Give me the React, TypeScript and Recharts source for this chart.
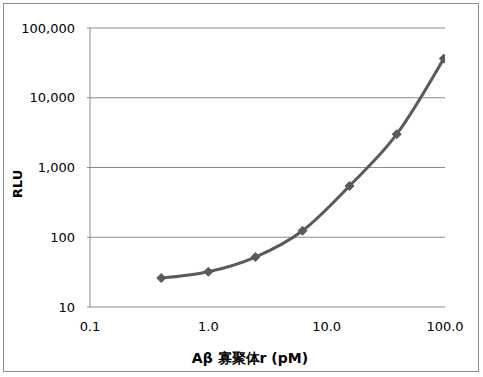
import { LineChart, Line, XAxis, YAxis, CartesianGrid } from 'recharts'

const concentrations = [0.4, 1.0, 2.5, 6.25, 15.6, 39.1, 97.7]
const rlu = [26, 32, 52, 124, 545, 3000, 36500]
const xTicks = [0.1, 1, 10, 100]
const yTicks = [10, 100, 1000, 10000, 100000]

const data = concentrations.map((x, i) => ({ x, y: rlu[i] }))

const FONT = 'DejaVu Sans, Verdana, sans-serif'
const LINE = '#5a5a5a'

function Diamond({ cx, cy }: any) {
  if (cx == null || cy == null) return null
  const r = 4.5
  return (
    <polygon
      points={`${cx},${cy - r} ${cx + r},${cy} ${cx},${cy + r} ${cx - r},${cy}`}
      fill={LINE}
      stroke={LINE}
      strokeWidth={1}
    />
  )
}

export default function App() {
  return (
    <div style={{ position: 'absolute', left: 0, top: 0, width: 483, height: 377, background: '#fff' }}>
      <div
        style={{
          position: 'absolute',
          left: 3,
          top: 3,
          width: 474,
          height: 367,
          border: '1px solid #8c8c8c',
        }}
      />
      <LineChart
        width={483}
        height={377}
        data={data}
        margin={{ top: 28, right: 38, bottom: 40, left: 0 }}
        style={{ position: 'absolute', left: 0, top: 0 }}
      >
        <CartesianGrid vertical={false} stroke="#8a8a8a" strokeWidth={1} />
        <XAxis
          dataKey="x"
          type="number"
          scale="log"
          domain={[0.1, 100]}
          ticks={xTicks}
          allowDataOverflow
          height={30}
          axisLine={false}
          tickLine={false}
          tickMargin={9}
          tickFormatter={(v: number) => v.toFixed(1)}
          tick={{ fill: '#000', fontSize: 13, fontFamily: FONT }}
          interval={0}
        />
        <YAxis
          type="number"
          scale="log"
          domain={[10, 100000]}
          ticks={yTicks}
          allowDataOverflow
          width={90}
          axisLine={{ stroke: '#8a8a8a' }}
          tickLine={{ stroke: '#8a8a8a' }}
          tickSize={3}
          tickMargin={12}
          tickFormatter={(v: number) => v.toLocaleString('en-US')}
          tick={{ fill: '#000', fontSize: 13, fontFamily: FONT }}
          interval={0}
        />
        <Line
          dataKey="y"
          type="monotone"
          stroke={LINE}
          strokeWidth={3}
          dot={<Diamond />}
          activeDot={false}
          isAnimationActive={false}
        />
        <text
          x={17}
          y={184}
          transform="rotate(-90 17 184)"
          textAnchor="middle"
          dominantBaseline="central"
          fontFamily={FONT}
          fontWeight="bold"
          fontSize={13}
          fill="#000"
        >
          RLU
        </text>
        <text
          x={250}
          y={358}
          textAnchor="middle"
          dominantBaseline="central"
          fontFamily={FONT}
          fontWeight="bold"
          fontSize={14}
          fill="#000"
        >
          Aβ 寡聚体r (pM)
        </text>
      </LineChart>
    </div>
  )
}
